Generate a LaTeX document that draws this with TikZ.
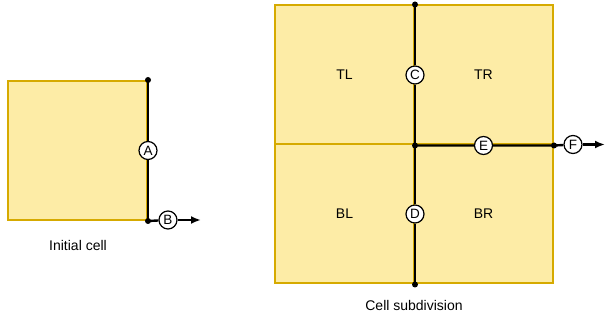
\documentclass[tikz,border=0pt]{standalone}
\usepackage{fontspec}
\setmainfont{Liberation Sans}
\usetikzlibrary{arrows.meta, positioning}
\definecolor{cellfill}{HTML}{FDECA6}
\definecolor{celledge}{HTML}{D6AA00}
\tikzset{
    cell/.style={rectangle, draw=celledge, fill=cellfill, line width=2pt, minimum width=139pt, minimum height=139pt, font=\fontsize{14}{16}\selectfont},
    tag/.style={circle, draw, fill=white, line width=1.2pt, inner sep=0pt, minimum size=18pt, font=\fontsize{13.5}{15}\selectfont},
    split/.style={line width=2.4pt},
    arrow/.style={line width=2.4pt, -{Latex[length=10pt, width=8pt]}},
    caption/.style={font=\fontsize{14}{16}\selectfont}
}
\newcommand{\knot}[1]{\fill (#1) circle (3pt);}

\begin{document}
\begin{tikzpicture}[x=1pt, y=-1pt]
    \useasboundingbox (0,0) rectangle (605,320);

    % single cell
    \node[cell] (init) at (77.5,150.5) {};
    \node[tag] (A) at (init.east) {A};
    \node[tag] (B) at (168,220) {B};
    \coordinate (Bend) at (201,220);
    \node[caption] (initcap) at (78,245) {Initial cell};

    \draw[split] (init.north east) -- (A) -- (init.south east);
    \draw[split] (init.south east) -- (B);
    \draw[arrow] (B) -- (Bend);
    \knot{init.north east}
    \knot{init.south east}

    % four children
    \node[cell] (TL) at (344.5,75) {TL};
    \node[cell] (TR) at (483.5,75) {TR};
    \node[cell] (BL) at (344.5,214) {BL};
    \node[cell] (BR) at (483.5,214) {BR};
    \node[tag] (C) at (TL.east) {C};
    \node[tag] (D) at (BL.east) {D};
    \node[tag] (E) at (TR.south) {E};
    \node[tag] (F) at (573,144.5) {F};
    \coordinate (Fend) at (605,144.5);
    \node[caption] (subcap) at (414,305) {Cell subdivision};

    \draw[split] (TL.north east) -- (C) -- (TL.south east) -- (D) -- (BL.south east);
    \draw[split] (TR.south west) -- (E) -- (TR.south east) -- (F);
    \draw[arrow] (F) -- (Fend);
    \knot{TL.north east}
    \knot{TL.south east}
    \knot{BL.south east}
    \knot{TR.south east}
\end{tikzpicture}
\end{document}
